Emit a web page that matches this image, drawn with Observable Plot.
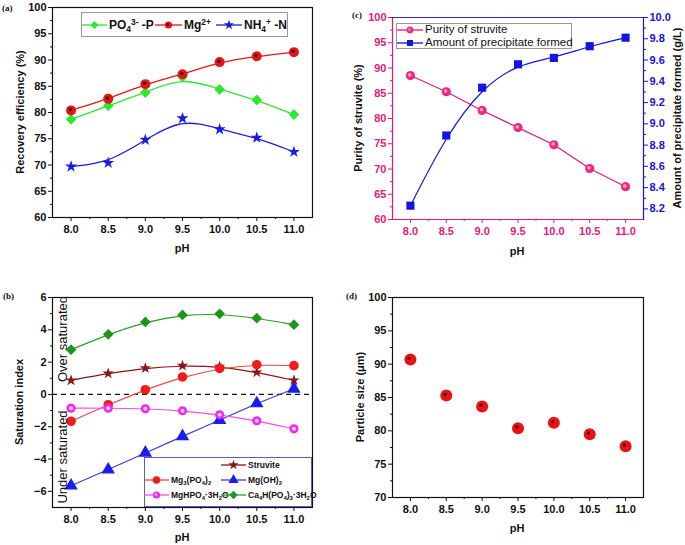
<!DOCTYPE html>
<html><head><meta charset="utf-8">
<script src="https://cdn.jsdelivr.net/npm/d3@7"></script>
<script src="https://cdn.jsdelivr.net/npm/@observablehq/plot@0.6"></script>
<style>
body{margin:0;background:#fff;font-family:"Liberation Sans",Arial,sans-serif;}
#root{position:relative;width:685px;height:545px;overflow:hidden;background:#fff}
.ttl{position:absolute;font-weight:bold;font-size:11px;color:#111;white-space:nowrap;line-height:1}
.rot{transform:translate(-50%,-50%) rotate(-90deg)}
.ctr{transform:translate(-50%,-50%)}
.plab{position:absolute;font-family:"Liberation Serif","Times New Roman",serif;font-weight:bold;font-size:9px;color:#111}
.leg{position:absolute;background:#fff;box-sizing:border-box}
.lt{position:absolute;white-space:nowrap;line-height:1;transform:translateY(-50%);color:#111}
sub{font-size:70%;vertical-align:-0.3em;line-height:0}
sup{font-size:70%;vertical-align:0.5em;line-height:0}
</style></head><body><div id="root"></div>
<script>
// ---------- data ----------
const pH = [8.0, 8.5, 9.0, 9.5, 10.0, 10.5, 11.0];
const pHTicks = [8.0, 8.5, 9.0, 9.5, 10.0, 10.5, 11.0];
const pHMinorTicks = [8.25, 8.75, 9.25, 9.75, 10.25, 10.75];

// (a) recovery efficiency (%)
const recoveryPO4 = [78.7, 81.3, 83.8, 86.8, 84.4, 82.4, 79.6];
const recoveryMg  = [80.4, 82.6, 85.4, 87.3, 89.6, 90.7, 91.5];
const recoveryNH4 = [69.7, 70.4, 74.8, 78.9, 76.8, 75.2, 72.5];
const recoveryTicks = [60, 65, 70, 75, 80, 85, 90, 95, 100];
const recoveryMinorTicks = [62.5, 67.5, 72.5, 77.5, 82.5, 87.5, 92.5, 97.5];

// (b) saturation index
const siStruvite = [0.87, 1.30, 1.63, 1.78, 1.72, 1.37, 0.87];
const siMg3PO42  = [-1.66, -0.64, 0.29, 1.08, 1.61, 1.84, 1.78];
const siMgOH2    = [-5.65, -4.66, -3.62, -2.59, -1.59, -0.56, 0.35];
const siMgHPO4   = [-0.85, -0.85, -0.89, -1.01, -1.26, -1.63, -2.13];
const siCa4H     = [2.77, 3.72, 4.49, 4.92, 4.99, 4.72, 4.32];
const siTicks = [-6, -4, -2, 0, 2, 4, 6];
const siMinorTicks = [-5, -3, -1, 1, 3, 5];
const siZero = [0];

// (c) purity & amount of precipitate
const purityStruvite = [88.5, 85.3, 81.6, 78.2, 74.8, 70.1, 66.5];
const precipitateAmount = [8.23, 8.89, 9.34, 9.56, 9.62, 9.73, 9.81];
const purityTicks = [60, 65, 70, 75, 80, 85, 90, 95, 100];
const purityMinorTicks = [62.5, 67.5, 72.5, 77.5, 82.5, 87.5, 92.5, 97.5];
const amountTicks = [8.2, 8.4, 8.6, 8.8, 9.0, 9.2, 9.4, 9.6, 9.8, 10.0];
const amountMinorTicks = [8.3, 8.5, 8.7, 8.9, 9.1, 9.3, 9.5, 9.7, 9.9];

// (d) particle size (um)
const particleSize = [90.7, 85.3, 83.65, 80.4, 81.2, 79.5, 77.7];
const particleTicks = [70, 75, 80, 85, 90, 95, 100];
const particleMinorTicks = [72.5, 77.5, 82.5, 87.5, 92.5, 97.5];

// ---------- helpers ----------
const root = document.getElementById("root");
const tbl = ys => pH.map((x, i) => ({pH: x, v: ys[i]}));
const xDomain = [7.75, 11.25];
const baseStyle = {fontFamily: "'Liberation Sans', Arial, sans-serif", fontSize: "11px", fontWeight: "bold", color: "#111", background: "transparent", overflow: "visible"};
const f1 = d3.format(".1f");
const blank = () => "";

function place(el, left, top) {
  el.style.position = "absolute"; el.style.left = left + "px"; el.style.top = top + "px";
  root.appendChild(el);
}
function html(str) { const d = document.createElement("div"); d.innerHTML = str; return d.firstElementChild; }
function title(text, x, y, rot, extra) {
  const d = document.createElement("div");
  d.className = "ttl " + (rot ? "rot" : "ctr");
  d.innerHTML = text;
  if (extra) Object.assign(d.style, extra);
  place(d, x, y);
}
function xAxes(color) {
  return [
    Plot.axisX({ticks: pHTicks, tickFormat: f1, tickSize: 4, tickPadding: 4, label: null, color}),
    Plot.axisX({ticks: pHMinorTicks, tickSize: 2, tickFormat: blank, label: null, color})
  ];
}
function yAxes(ticks, minor, color, anchor = "left", fmt) {
  return [
    Plot.axisY({ticks, tickFormat: fmt, tickSize: 4, tickPadding: 2, label: null, color, anchor}),
    Plot.axisY({ticks: minor, tickSize: 2, tickFormat: blank, label: null, color, anchor})
  ];
}
const symTypes = {circle: d3.symbolCircle, diamond2: d3.symbolDiamond2, star: d3.symbolStar, square: d3.symbolSquare, triangle: d3.symbolTriangle};
function legendItem(x, yc, w, shape, fill, line, r, label, font, innerFill) {
  const p = d3.symbol(symTypes[shape], Math.PI * r * r)();
  const inner = innerFill ? `<circle cx="${w/2 - 0.6}" cy="6.4" r="${r*0.35}" fill="${innerFill}"/>` : "";
  const s = html(`<svg width="${w}" height="14" style="overflow:visible"><line x1="0" x2="${w}" y1="7" y2="7" stroke="${line}" stroke-width="1.3"/><path transform="translate(${w/2},7)" d="${p}" fill="${fill}"/>${inner}</svg>`);
  place(s, x, yc - 7);
  const t = document.createElement("div");
  t.className = "lt"; t.innerHTML = label; Object.assign(t.style, font);
  place(t, x + w + 2, yc);
}
function legendBox(x, y, w, h, border) {
  const b = document.createElement("div");
  b.className = "leg"; b.style.width = w + "px"; b.style.height = h + "px"; b.style.border = border;
  place(b, x, y);
}

// ---------- panel (a) ----------
const cPO4 = "#2ee82e", cMg = "#e81414", cNH4 = "#1c1ce0";
const A = Plot.plot({
  width: 340, height: 280, marginLeft: 52, marginRight: 28, marginTop: 7, marginBottom: 63,
  style: baseStyle, x: {domain: xDomain}, y: {domain: [60, 100]},
  marks: [
    ...xAxes("#111"), ...yAxes(recoveryTicks, recoveryMinorTicks, "#111"),
    Plot.frame({stroke: "#111", strokeWidth: 1.2}),
    Plot.line(tbl(recoveryPO4), {x: "pH", y: "v", curve: "basis", stroke: cPO4, strokeWidth: 1.3}),
    Plot.line(tbl(recoveryMg), {x: "pH", y: "v", curve: "basis", stroke: cMg, strokeWidth: 1.3}),
    Plot.line(tbl(recoveryNH4), {x: "pH", y: "v", curve: "basis", stroke: cNH4, strokeWidth: 1.3}),
    Plot.dot(tbl(recoveryPO4), {x: "pH", y: "v", symbol: "diamond2", r: 4.8, fill: cPO4}),
    Plot.dot(tbl(recoveryMg), {x: "pH", y: "v", r: 5, fill: cMg}),
    Plot.dot(tbl(recoveryMg), {x: "pH", y: "v", r: 1.6, fill: "#111", dx: -0.8, dy: -0.8}),
    Plot.dot(tbl(recoveryNH4), {x: "pH", y: "v", symbol: "star", r: 3.8, fill: cNH4})
  ]
});
place(A, 0, 0);
title("pH", 182, 248);
title("Recovery efficiency (%)", 20, 112, true);
place(html(`<div class="plab">(a)</div>`), 2, 3);
legendBox(80.5, 12, 207, 25, "1px solid #999");
const legFontA = {fontSize: "12px", fontWeight: "bold"};
legendItem(82, 24.5, 25, "diamond2", cPO4, cPO4, 3.6, "PO<sub>4</sub><sup>3-</sup> -P", legFontA);
legendItem(155, 24.5, 27, "circle", cMg, cMg, 3.6, "Mg<sup>2+</sup>", legFontA, "#111");
legendItem(216, 24.5, 26, "star", cNH4, cNH4, 3.2, "NH<sub>4</sub><sup>+</sup> -N", legFontA);

// ---------- panel (b) ----------
const cStru = "#8b1515", cMg3 = "#f01c1c", cMg3L = "#f04848", cMgOH = "#1c1cec", cMgOHL = "#3a3ae8",
      cMgH = "#ee2aee", cMgHL = "#ee50ee", cCa = "#1e961e", cCaL = "#2aa02a";
const B = Plot.plot({
  width: 340, height: 265, marginLeft: 52, marginRight: 28, marginTop: 17, marginBottom: 38,
  style: baseStyle, x: {domain: xDomain}, y: {domain: [-7, 6]},
  marks: [
    ...xAxes("#111"), ...yAxes(siTicks, siMinorTicks, "#111"),
    Plot.frame({stroke: "#111", strokeWidth: 1.2}),
    Plot.ruleY(siZero, {stroke: "#111", strokeWidth: 1.2, strokeDasharray: "5,4"}),
    Plot.line(tbl(siCa4H), {x: "pH", y: "v", curve: "basis", stroke: cCaL, strokeWidth: 1.2}),
    Plot.line(tbl(siStruvite), {x: "pH", y: "v", curve: "basis", stroke: cStru, strokeWidth: 1.2}),
    Plot.line(tbl(siMg3PO42), {x: "pH", y: "v", curve: "basis", stroke: cMg3L, strokeWidth: 1.2}),
    Plot.line(tbl(siMgOH2), {x: "pH", y: "v", curve: "basis", stroke: cMgOHL, strokeWidth: 1.2}),
    Plot.line(tbl(siMgHPO4), {x: "pH", y: "v", curve: "basis", stroke: cMgHL, strokeWidth: 1.2}),
    Plot.dot(tbl(siCa4H), {x: "pH", y: "v", symbol: "diamond2", r: 4.8, fill: cCa}),
    Plot.dot(tbl(siStruvite), {x: "pH", y: "v", symbol: "star", r: 3.6, fill: cStru}),
    Plot.dot(tbl(siMg3PO42), {x: "pH", y: "v", r: 4.8, fill: cMg3}),
    Plot.dot(tbl(siMgOH2), {x: "pH", y: "v", symbol: "triangle", r: 5, fill: cMgOH}),
    Plot.dot(tbl(siMgHPO4), {x: "pH", y: "v", r: 4.6, fill: cMgH}),
    Plot.dot(tbl(siMgHPO4), {x: "pH", y: "v", r: 2, fill: "#fbc8fb"})
  ]
});
place(B, 0, 280);
title("pH", 182, 537);
title("Saturation index", 18.5, 402, true);
title("Over saturated", 61.5, 339, true, {fontWeight: "normal", fontSize: "13px"});
title("Under saturated", 61.5, 457, true, {fontWeight: "normal", fontSize: "13px"});
place(html(`<div class="plab">(b)</div>`), 3, 291);
legendBox(144, 457, 168, 50, "1px solid #5a5acc");
const legFontB = {fontSize: "8.5px", fontWeight: "bold"};
legendItem(221, 465, 25, "star", cStru, cStru, 3.2, "Struvite", legFontB);
legendItem(144, 479.5, 25, "circle", cMg3, cMg3L, 3.8, "Mg<sub>3</sub>(PO<sub>4</sub>)<sub>2</sub>", legFontB);
legendItem(221, 479.5, 25, "triangle", cMgOH, cMgOHL, 3.8, "Mg(OH)<sub>2</sub>", legFontB);
legendItem(144, 494.5, 25, "circle", cMgH, cMgHL, 3.6, "MgHPO<sub>4</sub>·3H<sub>2</sub>O", legFontB, "#fbc8fb");
legendItem(221, 494.5, 25, "diamond2", cCa, cCaL, 3.8, "Ca<sub>4</sub>H(PO<sub>4</sub>)<sub>3</sub>·3H<sub>2</sub>O", legFontB);

// ---------- panel (c) ----------
const cPink = "#e8177d", cBlue = "#1414e0";
const cMargins = {width: 345, height: 280, marginLeft: 52, marginRight: 42, marginTop: 17, marginBottom: 61};
const C1 = Plot.plot({
  ...cMargins, style: baseStyle, x: {domain: xDomain}, y: {domain: [60, 100]},
  marks: [
    ...xAxes(cPink), ...yAxes(purityTicks, purityMinorTicks, cPink),
    Plot.frame({anchor: "left", stroke: cPink, strokeWidth: 1.2}),
    Plot.frame({anchor: "bottom", stroke: cPink, strokeWidth: 1.2}),
    Plot.frame({anchor: "top", stroke: "#3030b0", strokeWidth: 1.2}),
    Plot.line(tbl(purityStruvite), {x: "pH", y: "v", stroke: cPink, strokeWidth: 1.2}),
    Plot.dot(tbl(purityStruvite), {x: "pH", y: "v", r: 4.6, fill: "#f0287f"}),
    Plot.dot(tbl(purityStruvite), {x: "pH", y: "v", r: 1.8, fill: "#f8a8c8", dx: -0.7, dy: -0.7})
  ]
});
place(C1, 340, 0);
const C2 = Plot.plot({
  ...cMargins, style: baseStyle, x: {domain: xDomain, axis: null}, y: {domain: [8.1, 10.0]},
  marks: [
    ...yAxes(amountTicks, amountMinorTicks, cBlue, "right", f1),
    Plot.frame({anchor: "right", stroke: cBlue, strokeWidth: 1.2}),
    Plot.line(tbl(precipitateAmount), {x: "pH", y: "v", curve: "basis", stroke: cBlue, strokeWidth: 1.2}),
    Plot.dot(tbl(precipitateAmount), {x: "pH", y: "v", symbol: "square", r: 4.6, fill: cBlue})
  ]
});
place(C2, 340, 0);
title("pH", 517, 251);
title("Purity of struvite (%)", 357.5, 118, true);
title("Amount of precipitate formed (g/L)", 676.5, 118, true);
place(html(`<div class="plab">(c)</div>`), 352, 10);
legendBox(396, 23, 176, 26, "1px solid #999");
const legFontC = {fontSize: "11.5px", fontWeight: "normal"};
legendItem(397, 30.3, 26, "circle", "#f0287f", cPink, 3.4, "Purity of struvite", legFontC, "#f8a8c8");
legendItem(397, 42.5, 26, "square", cBlue, cBlue, 3.4, "Amount of precipitate formed", legFontC);

// ---------- panel (d) ----------
const D = Plot.plot({
  width: 345, height: 265, marginLeft: 52, marginRight: 42, marginTop: 17, marginBottom: 48,
  style: baseStyle, x: {domain: xDomain}, y: {domain: [70, 100]},
  marks: [
    ...xAxes("#111"), ...yAxes(particleTicks, particleMinorTicks, "#111"),
    Plot.frame({stroke: "#111", strokeWidth: 1.2}),
    Plot.dot(tbl(particleSize), {x: "pH", y: "v", r: 6, fill: "#ee1010"}),
    Plot.dot(tbl(particleSize), {x: "pH", y: "v", r: 1.6, fill: "#111", dx: -1.2, dy: -1.2})
  ]
});
place(D, 340, 280);
title("pH", 517, 528);
title("Particle size (μm)", 360, 397, true);
place(html(`<div class="plab">(d)</div>`), 346, 291);
</script></body></html>
